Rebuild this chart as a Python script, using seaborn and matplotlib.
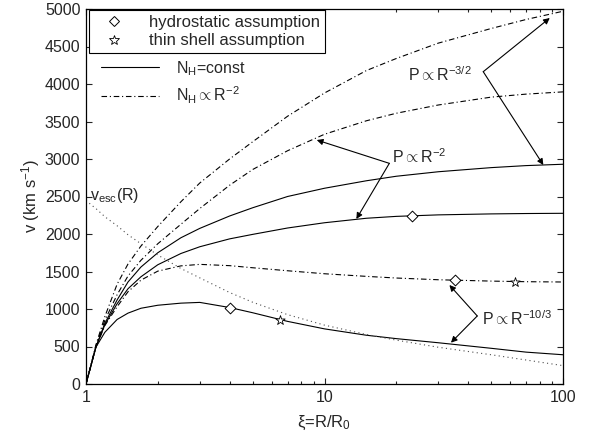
import numpy as np
import pandas as pd
import matplotlib
matplotlib.use("Agg")
import matplotlib.pyplot as plt
from matplotlib.lines import Line2D
from matplotlib.ticker import LogLocator, NullFormatter, MultipleLocator
import seaborn as sns

sns.set_style("ticks")
plt.rcParams["font.family"] = ["Liberation Sans", "DejaVu Sans"]
plt.rcParams["mathtext.fontset"] = "custom"
plt.rcParams["mathtext.rm"] = "Liberation Sans"
plt.rcParams["mathtext.it"] = "Liberation Sans:italic"
plt.rcParams["mathtext.sf"] = "Liberation Sans"

# radius xi = R/R0
xi = [1, 1.05, 1.1, 1.2, 1.35, 1.5, 1.7, 2, 2.5, 3, 4, 5, 7, 10, 15, 20, 30, 50, 70, 100]

# N_H = const
v_const_103 = [0, 250, 490, 690, 860, 945, 1010, 1050, 1078, 1088, 1020, 950, 835, 735, 650, 605, 550, 476, 425, 390]
v_const_2 = [0, 250, 490, 790, 1070, 1270, 1430, 1590, 1740, 1830, 1935, 1995, 2080, 2150, 2210, 2235, 2255, 2268, 2273, 2276]
v_const_32 = [0, 250, 495, 810, 1120, 1360, 1560, 1750, 1950, 2075, 2240, 2350, 2500, 2610, 2710, 2770, 2830, 2885, 2912, 2930]

# N_H ~ R^-2
v_r2_103 = [0, 250, 490, 780, 1030, 1230, 1385, 1505, 1575, 1595, 1578, 1550, 1510, 1470, 1435, 1413, 1390, 1372, 1364, 1360]
v_r2_2 = [0, 255, 505, 850, 1190, 1440, 1650, 1870, 2130, 2340, 2650, 2860, 3110, 3330, 3510, 3610, 3720, 3825, 3865, 3895]
v_r2_32 = [0, 260, 520, 900, 1330, 1600, 1840, 2100, 2430, 2680, 3000, 3230, 3570, 3880, 4180, 4340, 4545, 4740, 4860, 4970]

# escape velocity
v_esc = [2450, 2390, 2340, 2230, 2110, 1990, 1870, 1720, 1540, 1415, 1220, 1090, 925, 785, 660, 585, 490, 390, 320, 245]

# marker positions
diamond_x = [4.0, 23.2, 35.2]
diamond_v = [1020, 2243, 1384]
star_x = [6.5, 63]
star_v = [860, 1366]

curves = {
    "const_103": v_const_103,
    "const_2": v_const_2,
    "const_32": v_const_32,
    "r2_103": v_r2_103,
    "r2_2": v_r2_2,
    "r2_32": v_r2_32,
    "esc": v_esc,
}
df = pd.concat(
    [pd.DataFrame({"xi": xi, "v": vals, "curve": name}) for name, vals in curves.items()],
    ignore_index=True,
)

palette = {name: "black" for name in curves}
palette["esc"] = "0.3"
dd = (5, 2.5, 1, 2.5)
dashes = {
    "const_103": "",
    "const_2": "",
    "const_32": "",
    "r2_103": dd,
    "r2_2": dd,
    "r2_32": dd,
    "esc": (1, 3),
}

fig = plt.figure(figsize=(5.91, 4.34), dpi=100)
ax = fig.add_axes([86 / 591, 50 / 434, 477 / 591, 375 / 434])

sns.lineplot(data=df, x="xi", y="v", hue="curve", style="curve", palette=palette,
             dashes=dashes, linewidth=0.8, legend=False, ax=ax)

sns.scatterplot(x=diamond_x, y=diamond_v, marker="D", s=30, facecolor="white",
                edgecolor="black", linewidth=0.7, zorder=3, ax=ax)
sns.scatterplot(x=star_x, y=star_v, marker="*", s=50, facecolor="white",
                edgecolor="black", linewidth=0.6, zorder=3, ax=ax)

ax.set_xscale("log")
ax.set_xlim(1, 100)
ax.set_ylim(0, 5000)
ax.set_xticks([1, 10, 100])
ax.set_xticklabels(["1", "10", "100"])
ax.xaxis.set_minor_locator(LogLocator(base=10, subs=np.arange(2, 10)))
ax.xaxis.set_minor_formatter(NullFormatter())
ax.yaxis.set_major_locator(MultipleLocator(500))
ax.tick_params(which="both", direction="in", top=True, right=True, width=0.8,
               labelsize=11.5, pad=4)
ax.tick_params(which="major", length=4)
ax.tick_params(which="minor", length=2.3)
for sp in ax.spines.values():
    sp.set_linewidth(0.9)
    sp.set_color("black")

ax.set_xlabel(r"ξ=R/R$_\mathrm{0}$", fontsize=12, labelpad=7)
ax.set_ylabel(r"v (km s$^{-1}$)", fontsize=12, labelpad=2)

# legends
h1 = [
    Line2D([], [], ls="none", marker="D", ms=5.5, mfc="white", mec="black", mew=0.7),
    Line2D([], [], ls="none", marker="*", ms=7, mfc="white", mec="black", mew=0.6),
]
leg1 = ax.legend(h1, ["hydrostatic assumption", "thin shell assumption"],
                 loc="upper left", bbox_to_anchor=(0.006, 0.997), borderaxespad=0,
                 fancybox=False, edgecolor="black", framealpha=1, fontsize=12,
                 handlelength=2.4, handletextpad=0.9, labelspacing=0.2, borderpad=0.3)
leg1.get_frame().set_linewidth(0.8)
ax.add_artist(leg1)

h2 = [
    Line2D([], [], color="black", lw=0.8),
    Line2D([], [], color="black", lw=0.8, dashes=dd),
]
ax.legend(h2, [r"N$_\mathrm{H}$=const", r"N$_\mathrm{H}$$\propto$R$^{-2}$"],
          loc="upper left", bbox_to_anchor=((101 - 86) / 477, (384 - 59) / 375),
          borderaxespad=0, frameon=False, borderpad=0, fontsize=11.5,
          handlelength=3.6, handletextpad=1.1, labelspacing=0.45)

# annotations
arrow = dict(arrowstyle="-|>", color="black", lw=0.8, mutation_scale=9,
             shrinkA=0, shrinkB=0)
ax.text(22.4, 4040, r"P$\propto$R$^{-3/2}$", fontsize=11.5, ha="left", va="baseline")
ax.annotate("", xy=(88, 4880), xytext=(46.3, 4164), arrowprops=arrow)
ax.annotate("", xy=(82.7, 2920), xytext=(46.3, 4164), arrowprops=arrow)

ax.text(19.1, 2942, r"P$\propto$R$^{-2}$", fontsize=11.5, ha="left", va="baseline")
ax.annotate("", xy=(9.28, 3253), xytext=(18.7, 2942), arrowprops=arrow)
ax.annotate("", xy=(13.6, 2200), xytext=(18.7, 2942), arrowprops=arrow)

ax.text(45.6, 787, r"P$\propto$R$^{-10/3}$", fontsize=11.5, ha="left", va="baseline")
ax.annotate("", xy=(33.4, 1320), xytext=(43.7, 907), arrowprops=arrow)
ax.annotate("", xy=(33.9, 551), xytext=(43.7, 907), arrowprops=arrow)

ax.text(1.039, 2453, r"v$_\mathrm{esc}$(R)", fontsize=11.5, ha="left", va="baseline")

fig.savefig("out.png", dpi=100)
